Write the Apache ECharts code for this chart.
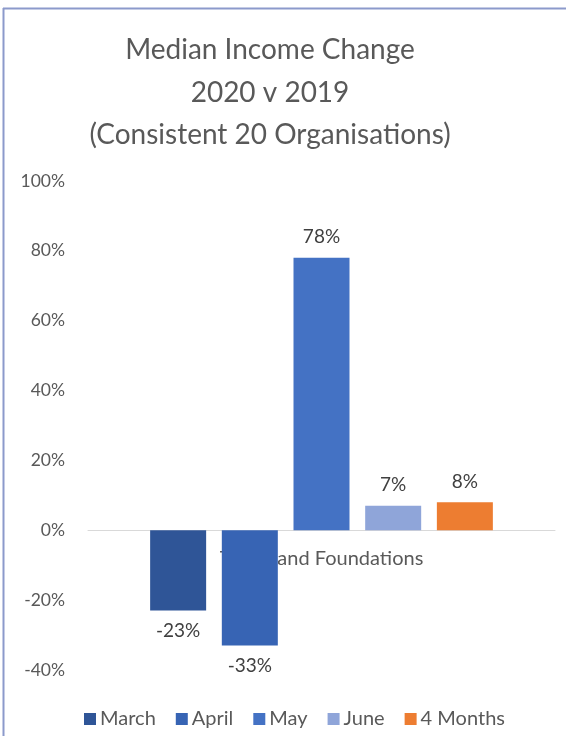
<!DOCTYPE html>
<html>
<head>
<meta charset="utf-8">
<script src="https://cdn.jsdelivr.net/npm/echarts@6/dist/echarts.min.js"></script>
<style>
  html, body { margin: 0; padding: 0; background: #fff; }
  #chart { width: 566px; height: 736px; }
</style>
</head>
<body>
<div id="chart"></div>
<script>
// data
var categories = ['Trusts and Foundations']
var seriesNames = ['March', 'April', 'May', 'June', '4 Months']
var seriesValues = [-23, -33, 78, 7, 8]
var seriesColors = ['#2F5597', '#3764B4', '#4472C4', '#8FA5D9', '#ED7D31']
var yTicks = { min: -40, max: 100, interval: 20 }

var fontName = 'Lato, "Open Sans", sans-serif'

var series = []
for (var i = 0; i < seriesNames.length; i++) {
  var v = seriesValues[i]
  series.push({
    name: seriesNames[i],
    type: 'bar',
    barWidth: 56,
    barGap: '28%',
    itemStyle: { color: seriesColors[i] },
    data: [{
      value: v,
      label: { position: v < 0 ? 'bottom' : 'top' }
    }],
    label: {
      show: true,
      distance: 11,
      formatter: '{c}%',
      fontFamily: fontName,
      fontSize: 19,
      color: '#404040'
    }
  })
}

var border = [
  { type: 'line', shape: { x1: 3, y1: 8.5, x2: 566, y2: 8.5 }, style: { stroke: '#8C9ACB', lineWidth: 2 } },
  { type: 'line', shape: { x1: 3.5, y1: 8, x2: 3.5, y2: 736 }, style: { stroke: '#8C9ACB', lineWidth: 2 } }
]

var myChart = echarts.init(document.getElementById('chart'))
myChart.setOption({
  animation: false,
  textStyle: { fontFamily: fontName },
  title: {
    text: 'Median Income Change\n2020 v 2019\n(Consistent 20 Organisations)',
    left: 265,
    textAlign: 'center',
    top: 24,
    textStyle: {
      fontFamily: fontName,
      fontSize: 28,
      fontWeight: 'normal',
      color: '#595959',
      lineHeight: 42.5
    }
  },
  legend: {
    top: 704,
    left: 79,
    itemWidth: 12,
    itemHeight: 12,
    itemGap: 20,
    icon: 'rect',
    textStyle: { fontFamily: fontName, fontSize: 20, color: '#595959', padding: [0, 0, 0, -1] },
    data: seriesNames
  },
  grid: { left: 88, right: 11, top: 181, bottom: 66 },
  xAxis: {
    type: 'category',
    data: categories,
    axisLine: { onZero: true, lineStyle: { color: '#d9d9d9', width: 1 } },
    axisTick: { show: false },
    axisLabel: { show: false }
  },
  yAxis: {
    type: 'value',
    min: yTicks.min,
    max: yTicks.max,
    interval: yTicks.interval,
    splitLine: { show: false },
    axisLine: { show: false },
    axisTick: { show: false },
    axisLabel: { margin: 23, formatter: '{value}%', fontFamily: fontName, fontSize: 17.5, color: '#595959' }
  },
  graphic: border,
  series: series
})

// category label sits just under the zero line, behind the bars
var cx = myChart.convertToPixel({ xAxisIndex: 0 }, categories[0])
var zy = myChart.convertToPixel({ yAxisIndex: 0 }, 0)
myChart.setOption({
  graphic: border.concat([
    {
      type: 'text',
      z: 0,
      x: cx,
      y: zy + 28,
      style: {
        text: categories[0],
        align: 'center',
        verticalAlign: 'middle',
        fontFamily: fontName,
        fontSize: 20,
        fill: '#595959'
      }
    }
  ])
})
</script>
</body>
</html>
